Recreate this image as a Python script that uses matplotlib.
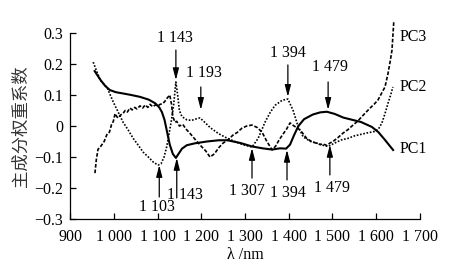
import matplotlib
matplotlib.use("Agg")
import matplotlib.pyplot as plt

# wavelength (nm) and loading values
wl1 = [955, 962, 970, 980, 991, 1005, 1021, 1040, 1060, 1080,
       1095, 1104, 1110, 1116, 1122, 1128, 1135, 1142, 1148, 1156,
       1167, 1185, 1213, 1240, 1260, 1290, 1316, 1340, 1362, 1380,
       1394, 1403, 1412, 1422, 1435, 1455, 1472, 1487, 1505, 1525,
       1545, 1565, 1590, 1605, 1620, 1640]
pc1 = [0.18, 0.165, 0.148, 0.13, 0.116, 0.109, 0.105, 0.1, 0.094, 0.085,
       0.073, 0.06, 0.045, 0.02, -0.02, -0.06, -0.09, -0.103, -0.09, -0.073,
       -0.062, -0.056, -0.05, -0.046, -0.046, -0.055, -0.066, -0.072, -0.076, -0.072,
       -0.073, -0.06, -0.03, 0.0, 0.022, 0.037, 0.044, 0.046, 0.039, 0.027,
       0.02, 0.013, -0.003, -0.02, -0.045, -0.08]

wl2 = [953, 960, 969, 985, 999, 1010, 1021, 1033, 1044, 1056,
       1067, 1079, 1090, 1101, 1108, 1115, 1121, 1127, 1132, 1137,
       1142, 1146, 1150, 1156, 1167, 1178, 1186, 1197, 1208, 1221,
       1240, 1260, 1277, 1295, 1316, 1330, 1346, 1358, 1369, 1385,
       1398, 1410, 1421, 1433, 1450, 1464, 1478, 1490, 1505, 1520,
       1535, 1550, 1565, 1580, 1595, 1605, 1613, 1620, 1627, 1633,
       1638]
pc2 = [0.206, 0.18, 0.148, 0.123, 0.077, 0.045, 0.013, -0.013, -0.039, -0.062,
       -0.084, -0.1, -0.116, -0.126, -0.122, -0.1, -0.067, -0.02, 0.02, 0.07,
       0.142, 0.1, 0.05, 0.03, 0.02, 0.018, 0.022, 0.026, 0.012, -0.006,
       -0.025, -0.04, -0.05, -0.06, -0.068, -0.04, 0.013, 0.045, 0.067, 0.083,
       0.087, 0.05, 0.0, -0.035, -0.05, -0.055, -0.062, -0.066, -0.055, -0.045,
       -0.04, -0.032, -0.027, -0.022, -0.018, -0.01, 0.01, 0.04, 0.074, 0.1,
       0.126]

wl3 = [957, 960, 964, 968, 973, 978, 985, 990, 995, 999,
       1003, 1007, 1010, 1015, 1021, 1026, 1031, 1037, 1042, 1048,
       1053, 1060, 1066, 1072, 1078, 1083, 1089, 1095, 1101, 1106,
       1112, 1117, 1122, 1128, 1132, 1135, 1140, 1144, 1150, 1158,
       1165, 1172, 1181, 1190, 1201, 1210, 1220, 1230, 1240, 1250,
       1261, 1272, 1283, 1293, 1304, 1316, 1328, 1339, 1350, 1362,
       1370, 1378, 1385, 1395, 1403, 1412, 1421, 1430, 1441, 1452,
       1462, 1472, 1479, 1487, 1494, 1501, 1512, 1524, 1535, 1547,
       1557, 1567, 1577, 1586, 1595, 1604, 1612, 1620, 1627, 1632,
       1636, 1640]
pc3 = [-0.152, -0.11, -0.075, -0.07, -0.06, -0.05, -0.025, -0.02, 0.005, 0.015,
       0.04, 0.03, 0.026, 0.035, 0.04, 0.05, 0.045, 0.058, 0.052, 0.06,
       0.055, 0.065, 0.058, 0.068, 0.06, 0.07, 0.062, 0.068, 0.065, 0.07,
       0.072, 0.08, 0.09, 0.1, 0.07, 0.03, 0.012, 0.015, 0.0, 0.005,
       -0.01, -0.02, -0.035, -0.05, -0.067, -0.08, -0.1, -0.09, -0.07, -0.055,
       -0.045, -0.03, -0.02, -0.007, 0.0, 0.003, -0.005, -0.02, -0.05, -0.077,
       -0.065, -0.045, -0.03, -0.01, 0.01, 0.0, -0.007, -0.02, -0.04, -0.05,
       -0.055, -0.06, -0.058, -0.063, -0.055, -0.05, -0.038, -0.023, -0.012, 0.003,
       0.015, 0.03, 0.045, 0.058, 0.07, 0.084, 0.105, 0.126, 0.17, 0.21,
       0.245, 0.335]

xticks = [900, 1000, 1100, 1200, 1300, 1400, 1500, 1600, 1700]
xticklabels = ["900", "1 000", "1 100", "1 200", "1 300", "1 400", "1 500", "1 600", "1 700"]
yticks = [-0.3, -0.2, -0.1, 0, 0.1, 0.2, 0.3]
yticklabels = ["\u22120.3", "\u22120.2", "\u22120.1", "0", "0.1", "0.2", "0.3"]

# peak marks: label, arrow x, arrow start y, arrow tip y, text x, text y
top_marks = [("1 143", 1142, 0.245, 0.148, 1140, 0.284),
             ("1 193", 1199, 0.126, 0.052, 1206, 0.171),
             ("1 394", 1398, 0.197, 0.094, 1397, 0.235),
             ("1 479", 1490, 0.142, 0.052, 1494, 0.19)]
bottom_marks = [("1 103", 1104, -0.229, -0.126, 1099, -0.26),
                ("1 143", 1144, -0.232, -0.103, 1163, -0.223),
                ("1 307", 1316, -0.168, -0.071, 1305, -0.21),
                ("1 394", 1396, -0.174, -0.077, 1397, -0.216),
                ("1 479", 1494, -0.158, -0.061, 1498, -0.2)]

pc_names = ["PC3", "PC2", "PC1"]
pc_label_y = [0.287, 0.126, -0.074]

serif = "Liberation Serif"
fs = 11.5

fig = plt.figure(figsize=(4.69, 2.69), dpi=100)
ax = fig.add_axes([0.1493, 0.1859, 0.7462, 0.6914])

ax.plot(wl1, pc1, color="black", lw=1.5, solid_capstyle="butt", clip_on=False)
ax.plot(wl2, pc2, color="black", lw=1.2, linestyle=(0, (1, 1.0)), clip_on=False)
ax.plot(wl3, pc3, color="black", lw=1.2, linestyle=(0, (2.2, 1.1)), clip_on=False)

ax.set_xlim(900, 1700)
ax.set_ylim(-0.3, 0.3)
ax.set_xticks(xticks)
ax.set_xticklabels(xticklabels, fontfamily=serif, fontsize=fs)
ax.set_yticks(yticks)
ax.set_yticklabels(yticklabels, fontfamily=serif, fontsize=fs)
ax.tick_params(direction="in", length=4, width=0.9)
ax.tick_params(axis="x", pad=7)
ax.tick_params(axis="y", pad=5)
ax.spines["top"].set_visible(False)
ax.spines["right"].set_visible(False)
for s in ["left", "bottom"]:
    ax.spines[s].set_linewidth(0.9)

arrow = dict(arrowstyle="-|>,head_length=0.7,head_width=0.18", color="black",
             lw=0.9, shrinkA=0, shrinkB=0)
for lab, x, y0, y1, tx, ty in top_marks + bottom_marks:
    ax.annotate("", xy=(x, y1), xytext=(x, y0), arrowprops=arrow, annotation_clip=False)
    ax.text(tx, ty, lab, ha="center", va="center", fontfamily=serif, fontsize=fs)

for name, y in zip(pc_names, pc_label_y):
    ax.text(1654, y, name, ha="left", va="center", fontfamily=serif, fontsize=fs,
            clip_on=False)

ax.set_xlabel("\u03bb /nm", fontfamily=serif, fontsize=fs, labelpad=2)
ax.set_ylabel("主成分权重系数", family=["Noto Sans CJK SC", "DejaVu Sans"],
              fontsize=12.5, color="#333333", labelpad=3)

fig.savefig("out.png", dpi=100)
